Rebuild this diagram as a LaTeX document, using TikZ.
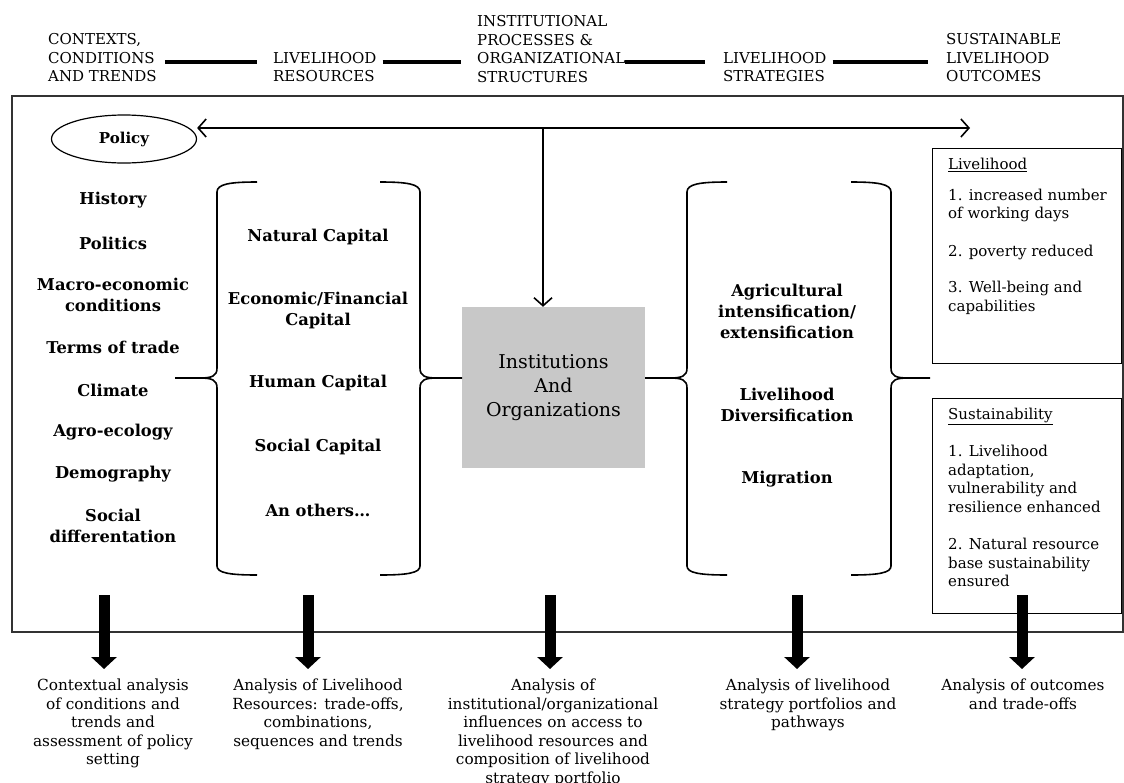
\documentclass[tikz,border=0pt]{standalone}
\usepackage{fontspec}
\setmainfont{DejaVu Serif}
\usetikzlibrary{arrows.meta,shapes.geometric}
\definecolor{boitegris}{RGB}{200,200,200}

\begin{document}
\begin{tikzpicture}[
    x=1pt, y=-1pt,  % coordonnées en pixels, y vers le bas
    >={Straight Barb[length=8pt,width=18pt]},
    titre/.style={anchor=west, align=left, inner sep=0pt, font=\fontsize{15}{18.5}\selectfont},
    trait/.style={line width=4pt},
    facteur/.style={align=center, inner sep=0pt, font=\bfseries\fontsize{16.3}{21}\selectfont},
    cadre/.style={draw=black!80, line width=1.5pt},
    accolade/.style={line width=1.6pt},
    fleche/.style={line width=1.6pt},
    grosse/.style={line width=11pt, -{Triangle[width=25pt,length=12pt]}},
    analyse/.style={anchor=north, align=center, inner sep=0pt, font=\fontsize{15.3}{18.5}\selectfont},
    resultat/.style={anchor=north west, align=left, inner sep=0pt, font=\fontsize{15}{18.5}\selectfont},
    boite/.style={draw, line width=1.2pt, anchor=north west, minimum width=189pt, minimum height=215pt, inner sep=0pt}
]
\useasboundingbox (0,0) rectangle (1124,782);

% En-têtes
\node[titre] (ctx) at (48,58) {CONTEXTS,\\CONDITIONS\\AND TRENDS};
\node[titre] (ress) at (273,67) {LIVELIHOOD\\RESOURCES};
\node[titre] (inst) at (477,49) {INSTITUTIONAL\\PROCESSES \&\\ORGANIZATIONAL\\STRUCTURES};
\node[titre] (strat) at (723,67) {LIVELIHOOD\\STRATEGIES};
\node[titre] (outc) at (946,58) {SUSTAINABLE\\LIVELIHOOD\\OUTCOMES};
\draw[trait, shorten <=8pt, shorten >=16pt] (ctx.east |- 0,62) -- (ress.west |- 0,62);
\draw[trait, shorten <=6pt, shorten >=16pt] (ress.east |- 0,62) -- (inst.west |- 0,62);
\draw[trait, shorten >=18pt] (inst.east |- 0,62) -- (strat.west |- 0,62);
\draw[trait, shorten <=6pt, shorten >=18pt] (strat.east |- 0,62) -- (outc.west |- 0,62);

% Cadre
\draw[cadre] (12,96) rectangle (1123,632);

% Politique
\node[draw, ellipse, line width=1.2pt, minimum width=145pt, minimum height=48pt, inner sep=0pt,
      font=\bfseries\fontsize{15}{16}\selectfont] (policy) at (124,139) {Policy};
\coordinate (croix) at (543,128);
\coordinate (finpol) at (970,128);

% Contextes
\foreach \txt/\y [count=\i] in {History/200, Politics/243, {Macro-economic\\conditions}/295,
    Terms of trade/347, Climate/390, Agro-ecology/432, Demography/474, {Social\\differentation}/526}
  \node[facteur] (f\i) at (113,\y) {\txt};

% Ressources
\foreach \txt/\y [count=\i] in {Natural Capital/237, {Economic/Financial\\Capital}/310,
    Human Capital/383, Social Capital/447, An others\ldots/510}
  \node[facteur] (c\i) at (318,\y) {\txt};

% Institutions
\node[fill=boitegris, minimum width=183pt, minimum height=161pt, align=center,
      font=\fontsize{19}{24}\selectfont] (org) at (553.5,387.5) {Institutions\\And\\Organizations};

% Stratégies
\foreach \txt/\y [count=\i] in {{Agricultural\\intensification/\\extensification}/311,
    {Livelihood\\Diversification}/405, Migration/479}
  \node[facteur] (s\i) at (787,\y) {\txt};

% Accolades
\foreach \x/\s/\t in {217/-1/175, 420/1/462, 687/-1/645, 891/1/930}
  \draw[accolade] ({\x-40*\s},182) .. controls ({\x-13*\s},182) and (\x,184) .. (\x,192)
    -- (\x,368) .. controls (\x,376) and ({\x+5*\s},378) .. ({\x+17*\s},378) -- (\t,378)
    ({\x+17*\s},378) .. controls ({\x+5*\s},378) and (\x,380) .. (\x,388)
    -- (\x,566) .. controls (\x,573) and ({\x-13*\s},575) .. ({\x-40*\s},575);

\draw[fleche, <->] (policy.east |- croix) -- (finpol);
\draw[fleche, ->] (croix) -- (croix |- org.north);

% Résultats
\node[boite] (bliv) at (932,148) {};
\node[resultat] (tliv) at ([shift={(16,10)}]bliv.north west)
  {\underline{Livelihood}\\[12pt]1. increased number\\of working days\\[19pt]2. poverty reduced\\[18pt]3. Well-being and\\capabilities};
\node[boite] (bdur) at (932,398) {};
\node[resultat] (tdur) at ([shift={(16,10)}]bdur.north west)
  {\underline{Sustainability}\\[18.5pt]1. Livelihood\\adaptation,\\vulnerability and\\resilience enhanced\\[19pt]2. Natural resource\\base sustainability\\ensured};

% Analyses
\foreach \x/\tx/\txt [count=\i] in {
    104/113/{Contextual analysis\\of conditions and\\trends and\\assessment of policy\\setting},
    308/318/{Analysis of Livelihood\\Resources: trade-offs,\\combinations,\\sequences and trends},
    550/553/{Analysis of\\institutional/organizational\\influences on access to\\livelihood resources and\\composition of livelihood\\strategy portfolio},
    797/808/{Analysis of livelihood\\strategy portfolios and\\pathways},
    1022/1023/{Analysis of outcomes\\and trade-offs}}
{
  \node[analyse] (a\i) at (\tx,679) {\txt};
  \coordinate (d\i) at (\x,595);
  \draw[grosse, shorten >=10pt] (d\i) -- (d\i |- a\i.north);
}
\end{tikzpicture}
\end{document}
